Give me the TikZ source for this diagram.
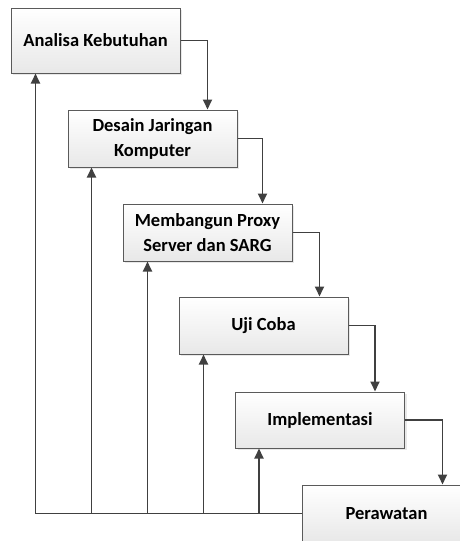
\documentclass[tikz,border=0pt]{standalone}
\usepackage{fontspec}
\setmainfont{Carlito}
\usetikzlibrary{arrows.meta,shadows}
\definecolor{edgegray}{HTML}{5A5A5A}
\definecolor{linegray}{HTML}{404040}
\tikzset{
  phase/.style={draw=edgegray, line width=1pt, top color=white, bottom color=black!9,
    minimum width=169pt, inner sep=2pt, align=center,
    font=\fontsize{18.5}{25}\selectfont\bfseries,
    drop shadow={shadow xshift=2pt, shadow yshift=-2pt, fill=black!15, opacity=0.6}},
  flow/.style={draw=linegray, line width=1.8pt, -{Triangle[length=10pt,width=9pt]}},
}
\begin{document}
\begin{tikzpicture}[x=1pt,y=-1pt]
\useasboundingbox (0,0) rectangle (460,541);
\begin{scope}
\clip (0,0) rectangle (460,541);
\node[phase, minimum height=65pt] (a) at (95.5,40.5) {Analisa Kebutuhan};
\node[phase, minimum height=57pt] (b) at (152.5,138.5) {Desain Jaringan\\Komputer};
\node[phase, minimum height=57pt] (c) at (207.5,232.5) {Membangun Proxy\\Server dan SARG};
\node[phase, minimum height=57pt] (d) at (263.5,325.5) {Uji Coba};
\node[phase, minimum height=56pt] (e) at (320,420) {Implementasi};
\node[phase, minimum height=57pt] (f) at (386.5,513.5) {Perawatan};

\draw[flow] (a.east) -| ([xshift=140pt]b.north west);
\draw[flow] (b.east) -| ([xshift=140pt]c.north west);
\draw[flow] (c.east) -| ([xshift=141pt]d.north west);
\draw[flow] (d.east) -| ([xshift=140pt]e.north west);
\draw[flow] (e.east) -| ([xshift=141pt]f.north west);

\draw[flow] (f.west) -| ([xshift=25pt]a.south west);
\draw[flow] (f.west) -| ([xshift=24pt]b.south west);
\draw[flow] (f.west) -| ([xshift=25pt]c.south west);
\draw[flow] (f.west) -| ([xshift=25pt]d.south west);
\draw[flow] (f.west) -| ([xshift=24pt]e.south west);
\end{scope}
\end{tikzpicture}
\end{document}
